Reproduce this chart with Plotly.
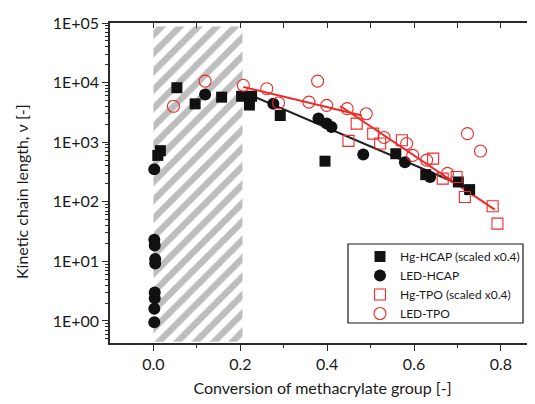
import plotly.graph_objects as go

# ---- data ----
hg_hcap_x = [0.010, 0.016, 0.054, 0.096, 0.157, 0.203, 0.226, 0.221, 0.292, 0.395, 0.558, 0.627, 0.702, 0.728]
hg_hcap_y = [600, 720, 8200, 4400, 5700, 5900, 5900, 4200, 2800, 480, 640, 285, 215, 160]

led_hcap_x = [0.002, 0.002, 0.003, 0.004, 0.004, 0.003, 0.003, 0.002, 0.002, 0.119, 0.276, 0.380, 0.399, 0.410, 0.483, 0.579, 0.637]
led_hcap_y = [350, 23, 18.5, 11.0, 9.2, 3.0, 2.4, 1.6, 0.95, 6300, 4400, 2500, 2050, 1800, 620, 460, 260]

hg_tpo_x = [0.449, 0.468, 0.506, 0.522, 0.572, 0.644, 0.666, 0.698, 0.717, 0.781, 0.792]
hg_tpo_y = [1050, 2050, 1390, 950, 1075, 530, 245, 261, 120, 84, 43]

led_tpo_x = [0.046, 0.119, 0.207, 0.261, 0.288, 0.358, 0.378, 0.399, 0.446, 0.490, 0.531, 0.583, 0.597, 0.629, 0.677, 0.723, 0.753]
led_tpo_y = [4000, 10600, 9000, 7900, 4550, 4700, 10600, 4150, 3650, 3000, 1200, 950, 600, 500, 300, 1390, 710]

fit_hcap_x = [0.207, 0.736]
fit_hcap_y = [6950, 156]
fit_tpo1_x = [0.207, 0.480]
fit_tpo1_y = [8440, 2800]
fit_tpo2_x = [0.430, 0.786]
fit_tpo2_y = [4050, 74]

shade_x = [0.0, 0.205]
y_decades = [1, 10, 100, 1000, 10000, 100000]
y_ticktext = ["1E+00", "1E+01", "1E+02", "1E+03", "1E+04", "1E+05"]
x_tickvals = [0.0, 0.2, 0.4, 0.6, 0.8]
x_ticktext = ["0.0", "0.2", "0.4", "0.6", "0.8"]

FONT = "Lato"
RED = "#f02828"
BLACK = "#111111"
AX = "#2a2a2a"

y_lo, y_hi = -0.37, 5.0

fig = go.Figure()

# hatched conversion window
fig.add_trace(go.Scatter(
    x=[shade_x[0], shade_x[1], shade_x[1], shade_x[0], shade_x[0]],
    y=[10**(y_lo+0.02), 10**(y_lo+0.02), 10**(y_hi-0.06), 10**(y_hi-0.06), 10**(y_lo+0.02)],
    mode="none", fill="toself", showlegend=False, hoverinfo="skip",
    fillcolor="rgba(0,0,0,0)",
    fillpattern=dict(shape="/", fgcolor="#7c7c7c", bgcolor="white", size=13, solidity=0.5),
))

# fit lines
fig.add_trace(go.Scatter(x=fit_hcap_x, y=fit_hcap_y, mode="lines",
                         line=dict(color="#222222", width=2), showlegend=False))
fig.add_trace(go.Scatter(x=fit_tpo1_x, y=fit_tpo1_y, mode="lines",
                         line=dict(color=RED, width=2), showlegend=False))
fig.add_trace(go.Scatter(x=fit_tpo2_x, y=fit_tpo2_y, mode="lines",
                         line=dict(color=RED, width=2), showlegend=False))

# markers
fig.add_trace(go.Scatter(x=hg_hcap_x, y=hg_hcap_y, mode="markers", name="Hg-HCAP (scaled x0.4)",
                         marker=dict(symbol="square", size=11, color=BLACK, line=dict(width=0))))
fig.add_trace(go.Scatter(x=led_hcap_x, y=led_hcap_y, mode="markers", name="LED-HCAP",
                         marker=dict(symbol="circle", size=12, color=BLACK, line=dict(width=0))))
fig.add_trace(go.Scatter(x=hg_tpo_x, y=hg_tpo_y, mode="markers", name="Hg-TPO (scaled x0.4)",
                         marker=dict(symbol="square-open", size=11, color=RED, line=dict(width=1.1, color=RED))))
fig.add_trace(go.Scatter(x=led_tpo_x, y=led_tpo_y, mode="markers", name="LED-TPO",
                         marker=dict(symbol="circle-open", size=12, color=RED, line=dict(width=1.1, color=RED))))

# dummy trace for top axis
fig.add_trace(go.Scatter(x=[0.5], y=[10], xaxis="x2", mode="markers",
                         marker=dict(opacity=0), showlegend=False, hoverinfo="skip"))

# page body has an 8px default margin: compensate so the plot lands where the reference has it
OFF = 8
W, H = 535 - OFF, 404 - OFF
L, R, T, B = 110 - OFF, 0, 23 - OFF, 61
pw, ph = W - L - R, H - T - B

def px2paper_x(p):
    return (p - OFF - L) / pw

def px2paper_y(p):
    return (H - B - (p - OFF)) / ph

minor_vals = [m * 10**d for d in range(-1, 5) for m in range(2, 10)]

fig.update_layout(
    width=W, height=H,
    margin=dict(l=L, r=R, t=T, b=B, pad=0),
    paper_bgcolor="white", plot_bgcolor="white",
    font=dict(family=FONT, color="#1a1a1a"),
    showlegend=True,
    xaxis=dict(
        range=[-0.1, 0.8785], showgrid=False, zeroline=False,
        showline=True, linecolor=AX, linewidth=1.5,
        tickmode="array", tickvals=x_tickvals, ticktext=x_ticktext,
        ticks="outside", ticklen=6, tickwidth=1.2, tickcolor=AX,
        minor=dict(tickmode="array", tickvals=[0.1, 0.3, 0.5, 0.7], ticks="outside",
                   ticklen=3, tickwidth=1.2, tickcolor=AX),
        tickfont=dict(size=16, family=FONT),
        title=dict(text="Conversion of methacrylate group [-]", font=dict(size=16, family=FONT), standoff=11),
    ),
    xaxis2=dict(
        overlaying="x", side="top", matches="x", anchor="y",
        showgrid=False, zeroline=False, showline=True, linecolor=AX, linewidth=1.5,
        tickmode="linear", tick0=0, dtick=0.1, ticks="inside", ticklen=5, tickwidth=1.2,
        tickcolor=AX, showticklabels=False,
    ),
    yaxis=dict(
        type="log", range=[y_lo, y_hi], showgrid=False, zeroline=False,
        showline=True, linecolor=AX, linewidth=1.5,
        tickmode="array", tickvals=y_decades, ticktext=y_ticktext,
        ticks="outside", ticklen=6, tickwidth=1.2, tickcolor=AX,
        minor=dict(tickmode="array", tickvals=minor_vals, ticks="outside",
                   ticklen=3, tickwidth=1, tickcolor=AX),
        tickfont=dict(size=16, family=FONT),
    ),
    annotations=[dict(text="Kinetic chain length, ν [-]", textangle=-90,
                      xref="paper", yref="paper", x=px2paper_x(21), y=px2paper_y(192),
                      xanchor="center", yanchor="middle", showarrow=False,
                      font=dict(size=16, family=FONT, color="#1a1a1a"))],
    legend=dict(
        x=px2paper_x(360), y=px2paper_y(242), xanchor="left", yanchor="top",
        bgcolor="rgba(0,0,0,0)", borderwidth=0,
        font=dict(size=12, family=FONT, color="#1a1a1a"),
        tracegroupgap=0,
    ),
    shapes=[dict(type="rect", xref="paper", yref="paper",
                 x0=px2paper_x(348), x1=px2paper_x(523),
                 y0=px2paper_y(323), y1=px2paper_y(244),
                 line=dict(color="#1a1a1a", width=1.2), fillcolor="white", layer="below")],
)

fig.write_html("out.html")
